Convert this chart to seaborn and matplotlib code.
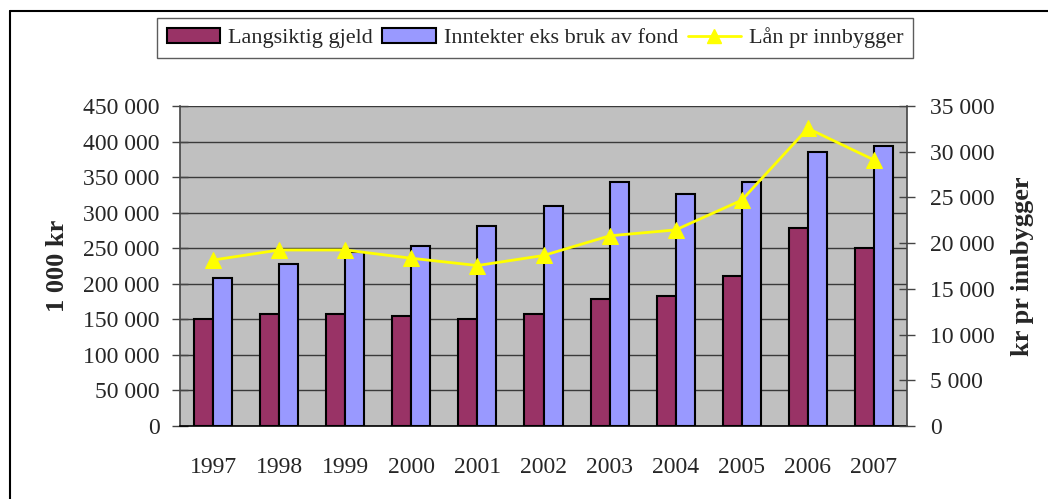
# Langsiktig gjeld, inntekter og lån pr innbygger 1997-2007

import pandas as pd
import matplotlib.pyplot as plt
import seaborn as sns
from matplotlib.patches import Patch
from matplotlib.lines import Line2D
from matplotlib.ticker import FuncFormatter, FixedLocator

# ------------------- Data -------------------

years = ["1997", "1998", "1999", "2000", "2001", "2002",
         "2003", "2004", "2005", "2006", "2007"]
gjeld = [150000, 157500, 157500, 155000, 150000, 157500,
         178000, 183000, 211000, 279000, 250500]
inntekter = [208500, 228500, 245000, 253500, 281500, 309500,
             343500, 326500, 343500, 385500, 394000]
laan_pr_innbygger = [18150, 19250, 19250, 18350, 17550, 18650,
                     20800, 21450, 24700, 32550, 29100]

lbl_gjeld = "Langsiktig gjeld"
lbl_inntekter = "Inntekter eks bruk av fond"
lbl_laan = "Lån pr innbygger"

df = pd.DataFrame({"År": years * 2,
                   "Verdi": gjeld + inntekter,
                   "Serie": [lbl_gjeld] * len(years) + [lbl_inntekter] * len(years)})

# ------------------- Style -------------------

sns.set_style("white")
plt.rcParams["font.family"] = ["Liberation Serif", "DejaVu Serif"]

maroon = "#993366"
lilla = "#9999FF"
gul = "#FFFF00"

fig = plt.figure(figsize=(10.48, 4.99), dpi=100)
ax = fig.add_axes([180 / 1048, 1 - 426 / 499, 727 / 1048, 320 / 499])
ax.set_facecolor("#C0C0C0")

sns.barplot(data=df, x="År", y="Verdi", hue="Serie", order=years,
            hue_order=[lbl_gjeld, lbl_inntekter],
            palette=[maroon, lilla], width=0.575, dodge=True,
            edgecolor="black", linewidth=1.5, saturation=1, ax=ax, legend=False)

ax.set_ylim(0, 450000)
ax.set_xlim(-0.5, len(years) - 0.5)
ax.yaxis.set_major_locator(FixedLocator(range(0, 450001, 50000)))
space_fmt = FuncFormatter(lambda v, p: f"{int(v):,}".replace(",", " "))
ax.yaxis.set_major_formatter(space_fmt)
ax.grid(axis="y", color="#3a3a3a", linewidth=1)
ax.set_axisbelow(True)

# x ticks: lines between categories, labels in the middle
ax.set_xticks([i - 0.5 for i in range(len(years) + 1)])
ax.set_xticklabels([])
ax.set_xticks(range(len(years)), minor=True)
ax.set_xticklabels(years, minor=True)
ax.tick_params(axis="x", which="major", direction="inout", length=12,
               color="#444444", width=1)
ax.tick_params(axis="x", which="minor", length=0, pad=22, labelsize=17)
ax.tick_params(axis="y", direction="inout", length=11, width=1,
               color="#444444", pad=9, labelsize=17, left=True)
ax.set_xlabel("")
ax.set_ylabel("1 000 kr", fontsize=19, fontweight="bold", labelpad=10)

for side in ["top", "right"]:
    ax.spines[side].set_visible(False)
ax.spines["left"].set_color("#444444")
ax.spines["bottom"].set_color("black")
ax.spines["left"].set_linewidth(1.2)
ax.spines["bottom"].set_linewidth(1.2)

# ------------------- Line on second axis -------------------

ax2 = ax.twinx()
sns.lineplot(x=list(range(len(years))), y=laan_pr_innbygger, ax=ax2,
             color=gul, linewidth=2, marker="^", markersize=11,
             markeredgecolor=gul)
ax2.set_ylim(0, 35000)
ax2.set_xlim(-0.5, len(years) - 0.5)
ax2.yaxis.set_major_locator(FixedLocator(range(0, 35001, 5000)))
ax2.yaxis.set_major_formatter(space_fmt)
ax2.tick_params(axis="y", direction="inout", length=11, width=1,
                color="#444444", pad=11, labelsize=17, right=True)
ax2.set_ylabel("kr pr innbygger", fontsize=19, fontweight="bold", labelpad=12)
for side in ["top", "left", "bottom"]:
    ax2.spines[side].set_visible(False)
ax2.spines["right"].set_color("#444444")
ax2.spines["right"].set_linewidth(1.2)

# ------------------- Legend -------------------

handles = [Patch(facecolor=maroon, edgecolor="black", linewidth=1.5),
           Patch(facecolor=lilla, edgecolor="black", linewidth=1.5),
           Line2D([], [], color=gul, linewidth=2, marker="^", markersize=10)]
fig.legend(handles, [lbl_gjeld, lbl_inntekter, lbl_laan],
           loc="center", bbox_to_anchor=(535 / 1048, 1 - 38 / 499),
           ncol=3, fontsize=16, frameon=True, fancybox=False,
           edgecolor="#333333", handlelength=2.4, handleheight=0.7,
           columnspacing=0.45, handletextpad=0.35, borderpad=0.45,
           borderaxespad=0.2)

# outer frame (left and top edges visible)
fig.add_artist(Line2D([10 / 1048, 10 / 1048], [0, 1 - 11 / 499],
                      transform=fig.transFigure, color="black", linewidth=1.5))
fig.add_artist(Line2D([10 / 1048, 1], [1 - 11 / 499, 1 - 11 / 499],
                      transform=fig.transFigure, color="black", linewidth=1.5))

fig.savefig("out.png", dpi=100)
